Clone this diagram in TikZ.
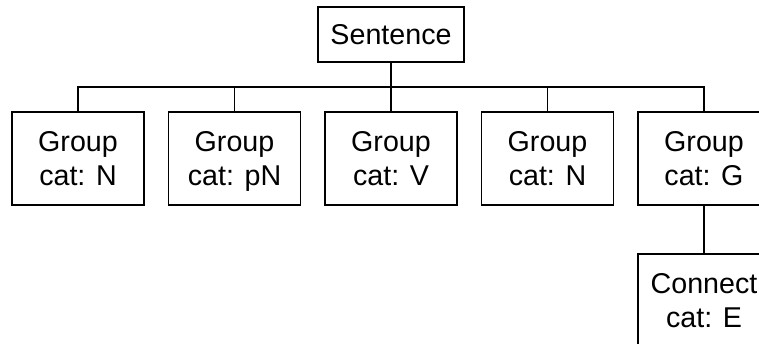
\documentclass[tikz,border=0pt]{standalone}
\usepackage{fontspec}
\setmainfont{Liberation Sans}
\usetikzlibrary{positioning}

\begin{document}
\begin{tikzpicture}[
    treebox/.style={draw=black, fill=white, line width=0.7pt, rectangle,
                    align=center, inner sep=2pt,
                    font=\fontsize{16.3}{19.9}\selectfont},
    groupbox/.style={treebox, minimum width=2.64cm, minimum height=1.86cm,
                     text depth=0pt},
    rootbox/.style={treebox, minimum width=2.92cm, minimum height=1.10cm},
    treeline/.style={black, line width=0.7pt}
]
\useasboundingbox (0,0) rectangle (15.18,6.86);
\clip (0,0) rectangle (15.18,6.86);

\node[rootbox]  (S)  at ( 7.82, 6.17) {Sentence};
\node[groupbox] (g1) at ( 1.56, 3.69) {Group\\cat: N};
\node[groupbox] (g2) at ( 4.69, 3.69) {Group\\cat: pN};
\node[groupbox] (g3) at ( 7.82, 3.69) {Group\\cat: V};
\node[groupbox] (g4) at (10.95, 3.69) {Group\\cat: N};
\node[groupbox] (g5) at (14.08, 3.69) {Group\\cat: G};
\node[groupbox] (c1) at (14.08, 0.85) {Connect\\cat: E};

\coordinate (bus) at (0, 5.12);

% sentence down to the bus, bus across the groups
\draw[treeline] (S.south) -- (S.south |- bus);
\draw[treeline] (g1.north) -- (g1.north |- bus) -- (g5.north |- bus) -- (g5.north);
\foreach \g in {g2,g3,g4}
  \draw[treeline] (\g.north) -- (\g.north |- bus);

\draw[treeline] (g5.south) -- (c1.north);

\end{tikzpicture}
\end{document}
